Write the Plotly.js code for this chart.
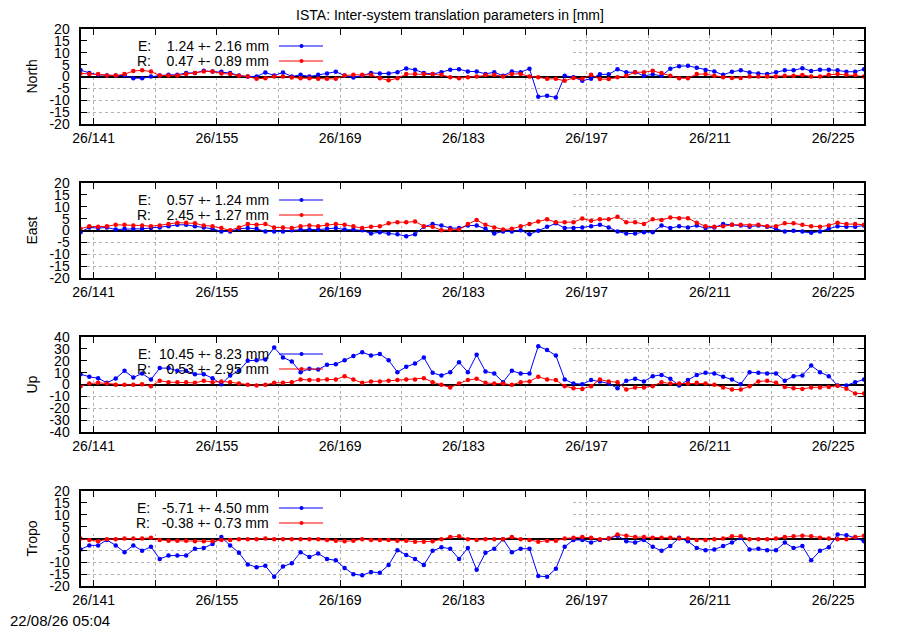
<!DOCTYPE html>
<html><head><meta charset="utf-8">
<script src="https://cdn.plot.ly/plotly-3.0.1.min.js"></script>
<style>html,body{margin:0;padding:0;background:#fff}</style>
</head><body><div id="chart" style="width:900px;height:630px"></div>
<script>
const days = [139.5,140.5,141.5,142.5,143.5,144.5,145.5,146.5,147.5,148.5,
149.5,150.5,151.5,152.5,153.5,154.5,155.5,156.5,157.5,158.5,
159.5,160.5,161.5,162.5,163.5,164.5,165.5,166.5,167.5,168.5,
169.5,170.5,171.5,172.5,173.5,174.5,175.5,176.5,177.5,178.5,
179.5,180.5,181.5,182.5,183.5,184.5,185.5,186.5,187.5,188.5,
189.5,190.5,191.5,192.5,193.5,194.5,195.5,196.5,197.5,198.5,
199.5,200.5,201.5,202.5,203.5,204.5,205.5,206.5,207.5,208.5,
209.5,210.5,211.5,212.5,213.5,214.5,215.5,216.5,217.5,218.5,
219.5,220.5,221.5,222.5,223.5,224.5,225.5,226.5,227.5,228.5];

const northE = [2.7,1.5,0.7,0.4,0.4,0.4,-0.7,-0.7,0,0.4,0.7,0.7,1.5,1.5,2.4,2.1,2.0,1.5,0.4,0,0,1.7,0.4,1.7,0,0.7,0,0.7,1.3,2.0,0.4,-0.4,0.4,1.5,1.3,1.3,1.8,3.4,2.8,1.5,1.0,1.8,2.8,
3.1,2.1,2.1,1.1,1.8,0.3,2.1,1.8,3.3,-8.5,-8.1,-8.8,0.3,-0.3,-1.8,-0.9,0.9,0.9,3.0,1.8,1.8,0.3,0.9,0.3,3.3,4.3,4.5,3.7,2.7,2.1,0.7,2.0,2.6,1.7,1.3,1.0,1.8,2.6,2.6,3.5,2.3,2.8,2.8,2.6,2.0,2.0,3.1];
const northR = [1.3,1.0,1.0,0.4,0.4,1.0,2.3,2.6,2.1,0.4,0.4,0.4,1.0,1.5,2.1,2.1,1.3,1.0,0.3,0,-1.0,-0.7,0,0,-0.4,-0.7,-0.7,-1.0,-1.0,-1.0,0.4,0.7,0.7,0.7,-0.7,-1.6,-0.7,1.0,1.0,1.0,1.0,0.7,-0.3,
-0.7,-0.3,0,0.6,0.7,0,1.1,1.1,0,-0.3,-1.0,-1.0,-1.8,-0.6,-1.0,0.7,-1.1,-1.1,-0.3,0.3,1.8,1.8,2.4,1.5,0.3,-0.7,-0.7,1.0,1.0,0.3,-0.3,-0.6,-0.6,0,0,0,0,0.3,0.3,0.6,0,0,0.7,1.0,0.7,0.6,0];

const eastE = [-0.7,1.3,1.0,1.3,0.4,0.7,0.7,0.7,1.0,1.3,1.8,2.4,2.4,1.8,1.3,0.7,-0.4,-0.4,0.7,1.0,0.7,-0.4,-0.4,-0.4,0.1,0.4,0.4,0.4,0.7,1.0,0.4,0.4,0.1,-1.3,-0.7,-1.3,-1.6,-2.4,-1.6,1.6,2.7,2.1,1.0,1.0,2.1,
2.1,0.7,-1.3,-0.4,-0.4,0.1,-1.6,-0.1,1.6,3.0,1.0,1.0,1.3,1.8,2.4,1.3,-0.4,-1.3,-1.3,-0.7,-0.7,2.1,1.0,1.8,1.3,2.1,1.0,1.3,2.7,2.4,2.1,1.6,2.1,1.6,0.7,-0.4,-0.1,-0.4,-1.0,-0.4,0.7,1.8,1.6,1.6,2.1];
const eastR = [0.7,1.8,1.6,1.8,2.4,2.4,2.1,2.1,1.8,2.1,2.7,3.3,3.3,3.0,2.1,1.8,1.0,0.1,1.3,2.7,2.4,2.7,1.3,1.3,1.0,1.8,2.1,1.8,2.4,2.7,2.4,1.8,1.0,1.6,1.8,3.0,3.5,3.5,3.8,1.8,1.6,0.1,0.4,0.4,2.7,
4.4,2.4,1.3,0.4,0.7,1.8,2.7,3.8,4.7,3.5,3.5,3.5,5.0,4.1,4.7,4.7,5.8,3.5,3.5,2.7,4.7,4.4,5.5,5.2,5.2,3.3,1.8,1.6,1.8,2.4,2.4,2.1,2.4,1.8,1.8,3.0,3.0,2.4,1.8,1.6,2.1,3.3,2.7,2.7,2.4];

const upE = [8.7,6.5,5.3,1.4,5.0,11.5,5.9,9.3,4.2,13.8,13.8,11.5,11.5,8.7,8.7,5.3,0.3,7.6,11.5,20.0,20.5,21.0,31.2,22.8,19.4,10.4,13.2,12.6,16.6,17.1,20.5,23.9,27.2,24.4,25.6,20.5,10.4,14.9,17.7,22.8,9.8,7.6,10.4,18.8,10.4,
25.0,11.0,9.3,2.0,11.5,9.3,9.3,32.3,29.0,24.4,4.2,0.8,0.3,3.7,2.5,0.8,-3.1,3.1,4.8,2.5,7.0,8.1,4.8,-0.8,3.7,8.1,9.8,9.3,6.5,4.2,0.3,10.4,9.8,9.3,9.3,3.1,7.0,7.6,16.0,10.4,7.0,-0.8,-0.8,2.0,4.2];
const upR = [-1.4,0.8,1.4,0.8,-0.3,-0.3,-0.3,0.3,-1.4,3.1,2.0,2.0,2.0,1.4,3.1,2.0,2.5,2.0,0.8,-0.3,-0.8,-0.3,1.4,1.4,2.0,4.2,3.7,3.7,4.2,4.2,7.0,4.2,1.4,2.5,2.5,3.1,3.7,4.2,4.2,5.3,2.0,-0.3,-2.5,0.8,3.7,
4.8,1.4,0.8,0.8,-0.3,2.0,2.5,6.5,4.2,3.7,-1.4,-3.1,-3.7,-1.4,4.2,2.5,2.0,-4.2,-2.5,-2.5,-1.4,2.0,0.8,0.8,0.8,1.4,0.8,-0.3,-2.5,-4.2,-4.2,-1.4,2.5,3.1,1.4,-2.0,-3.1,-3.7,-2.5,-2.5,-2.0,-1.0,-3.5,-7.5,-7.6];

const tropoE = [-4.6,-2.9,-2.9,-0.6,-2.9,-5.8,-2.9,-5.2,-3.5,-8.6,-7.2,-7.2,-7.2,-4.3,-4.0,-2.3,0.6,-2.9,-6.0,-10.9,-12.1,-11.5,-16.1,-11.8,-10.4,-5.8,-7.8,-6.3,-8.6,-9.2,-12.4,-15.0,-15.5,-14.1,-14.4,-11.2,-4.9,-6.9,-8.6,-11.2,-5.2,-3.7,-4.3,-8.6,-4.0,
-13.2,-6.0,-4.3,-0.3,-5.8,-4.3,-4.3,-15.8,-16.1,-12.7,-3.5,-0.6,-0.6,-1.7,-0.6,0,1.2,-1.2,-1.7,-0.6,-3.5,-5.2,-3.2,0.3,-1.2,-4.0,-4.9,-4.6,-3.2,-1.7,0.3,-4.6,-4.3,-4.9,-4.9,-1.7,-4.0,-3.2,-9.2,-5.2,-3.7,1.7,1.4,0.3,-1.2];
const tropoR = [0,-0.6,-1.2,-0.3,-0.3,0,0,0,0.3,-0.6,-0.9,-0.9,-0.9,-1.2,-1.2,-1.2,-0.6,-0.6,-0.3,-0.3,-0.3,0,-0.3,-0.3,-0.3,-0.3,-0.3,-0.3,-0.6,-0.9,-1.2,-0.9,-0.3,-0.6,-0.6,-0.6,-0.9,-0.9,-1.4,-1.4,-1.2,-0.3,0.6,0.9,-0.3,
-0.6,-0.3,-0.3,-0.3,0.6,-0.3,-0.6,-1.4,-0.9,-0.9,0,0.3,0.6,0.3,-0.3,0,1.7,1.2,0.6,0.6,0.3,0.3,0.3,0,0,-0.6,-0.6,-0.3,0,0.9,0.9,-0.3,-0.3,-0.3,0,0.6,0.9,1.2,0.9,0.3,0,-0.3,-0.3,0.6,1.2];

const panelNames = ['North','East','Up','Tropo'];
const legendE = ['E:    1.24 +- 2.16 mm','E:    0.57 +- 1.24 mm','E:  10.45 +- 8.23 mm','E:   -5.71 +- 4.50 mm'];
const legendR = ['R:    0.47 +- 0.89 mm','R:    2.45 +- 1.27 mm','R:    0.53 +- 2.95 mm','R:   -0.38 +- 0.73 mm'];
const tickDays = [141,148,155,162,169,176,183,190,197,204,211,218,225];
const tickLabels = ['26/141','','26/155','','26/169','','26/183','','26/197','','26/211','','26/225'];
const yVals20 = [-20,-15,-10,-5,0,5,10,15,20];
const yText20 = ['-20','-15','-10','-5','0','5','10','15','20'];
const yVals40 = [-40,-30,-20,-10,0,10,20,30,40];
const yText40 = ['-40','-30','-20','-10','0','10','20','30','40'];
const titleText = 'ISTA: Inter-system translation parameters in [mm]';
const stampText = '22/08/26 05:04';

const seriesE = [northE, eastE, upE, tropoE];
const seriesR = [northR, eastR, upR, tropoR];
const yValsList = [yVals20, yVals20, yVals40, yVals20];
const yTextList = [yText20, yText20, yText40, yText20];

const FONT = 'Liberation Sans, Arial, Helvetica, sans-serif';
const W = 900, H = 630;
const plotL = 80.5, plotR = 864;
const panelTops = [29, 183, 337, 491];
const panelH = 95;
const keyRightPx = 573, keyDepthPx = 43;
const BLUE = '#0000ff', RED = '#ff0000';
const nb = s => s.replace(/ /g, '\u00a0');

const traces = [];
const layout = {
  width: W, height: H,
  margin: {l: 0, r: 0, t: 0, b: 0},
  paper_bgcolor: '#fff', plot_bgcolor: '#fff',
  font: {family: FONT, size: 14, color: '#000'},
  showlegend: false,
  title: {text: titleText, x: 0.5, xref: 'container', y: 1 - 15/H, yref: 'container', yanchor: 'middle', xanchor: 'center', font: {family: FONT, size: 14, color: '#000'}},
  shapes: [], annotations: []
};

const x0 = days[0], x1 = days[days.length - 1];
for (let k = 0; k < 4; k++) {
  const xn = k === 0 ? 'x' : 'x' + (k + 1);
  const yn = k === 0 ? 'y' : 'y' + (k + 1);
  const xa = k === 0 ? 'xaxis' : 'xaxis' + (k + 1);
  const ya = k === 0 ? 'yaxis' : 'yaxis' + (k + 1);
  const top = panelTops[k];
  const yv = yValsList[k];
  const ylo = yv[0], yhi = yv[yv.length - 1];
  layout[xa] = {
    domain: [plotL/W, plotR/W], anchor: yn,
    range: [x0, x1],
    tickmode: 'array', tickvals: tickDays, ticktext: tickLabels,
    ticks: 'inside', ticklen: 6, tickwidth: 1, tickcolor: '#000',
    showline: true, linecolor: '#000', linewidth: 2, mirror: 'ticks',
    showgrid: true, gridcolor: '#b4b4b4', griddash: 'dot', gridwidth: 1,
    zeroline: false, tickfont: {family: FONT, size: 14, color: '#000'},
    ticklabelstandoff: 0, automargin: false, fixedrange: true
  };
  layout[ya] = {
    domain: [1 - (top + panelH)/H, 1 - top/H], anchor: xn,
    range: [ylo, yhi],
    tickmode: 'array', tickvals: yv, ticktext: yTextList[k],
    ticks: 'inside', ticklen: 6, tickwidth: 1, tickcolor: '#000',
    showline: true, linecolor: '#000', linewidth: 2, mirror: 'ticks',
    showgrid: true, gridcolor: '#b4b4b4', griddash: 'dot', gridwidth: 1,
    zeroline: true, zerolinecolor: '#000', zerolinewidth: 2,
    tickfont: {family: FONT, size: 14, color: '#000'},
    ticklabelstandoff: 6, automargin: false, fixedrange: true
  };
  traces.push({type: 'scatter', mode: 'lines+markers', x: days, y: seriesE[k], xaxis: xn, yaxis: yn,
    line: {color: BLUE, width: 1}, marker: {color: BLUE, size: 4.5}, showlegend: false});
  traces.push({type: 'scatter', mode: 'lines+markers', x: days, y: seriesR[k], xaxis: xn, yaxis: yn,
    line: {color: RED, width: 1}, marker: {color: RED, size: 4.5}, showlegend: false});

  // white key box hiding the grid behind the key (decoration)
  const perPxX = (x1 - x0) / (plotR - plotL);
  const perPxY = (yhi - ylo) / panelH;
  layout.shapes.push({type: 'rect', xref: xn, yref: yn,
    x0: x0, x1: x0 + (keyRightPx - plotL) * perPxX,
    y0: yhi - keyDepthPx * perPxY, y1: yhi,
    fillcolor: '#ffffff', line: {width: 0}, layer: 'between'});
  // key samples
  const rows = [[top + 17, BLUE], [top + 32, RED]];
  rows.forEach(([yy, c]) => {
    layout.shapes.push({type: 'line', xref: 'paper', yref: 'paper', x0: 279/W, x1: 323/W, y0: 1 - yy/H, y1: 1 - yy/H, line: {color: c, width: 1}, layer: 'above'});
    layout.shapes.push({type: 'circle', xref: 'paper', yref: 'paper', x0: 299.5/W, x1: 303.5/W, y0: 1 - (yy + 2)/H, y1: 1 - (yy - 2)/H, fillcolor: c, line: {color: c, width: 0}, layer: 'above'});
  });
  layout.annotations.push({text: nb(legendE[k]), xref: 'paper', yref: 'paper', x: 271/W, y: 1 - (top + 17)/H, xanchor: 'right', yanchor: 'middle', showarrow: false, font: {family: FONT, size: 14, color: '#000'}});
  layout.annotations.push({text: nb(legendR[k]), xref: 'paper', yref: 'paper', x: 271/W, y: 1 - (top + 32)/H, xanchor: 'right', yanchor: 'middle', showarrow: false, font: {family: FONT, size: 14, color: '#000'}});
  layout.annotations.push({text: panelNames[k], xref: 'paper', yref: 'paper', x: 31/W, y: 1 - (top + panelH/2)/H, textangle: -90, xanchor: 'center', yanchor: 'middle', showarrow: false, font: {family: FONT, size: 14, color: '#000'}});
}
layout.annotations.push({text: stampText, xref: 'paper', yref: 'paper', x: 8/W, y: 1 - 620/H, xanchor: 'left', yanchor: 'middle', showarrow: false, font: {family: FONT, size: 15, color: '#000'}});

Plotly.newPlot('chart', traces, layout, {staticPlot: true, displayModeBar: false});
</script>
</body></html>
